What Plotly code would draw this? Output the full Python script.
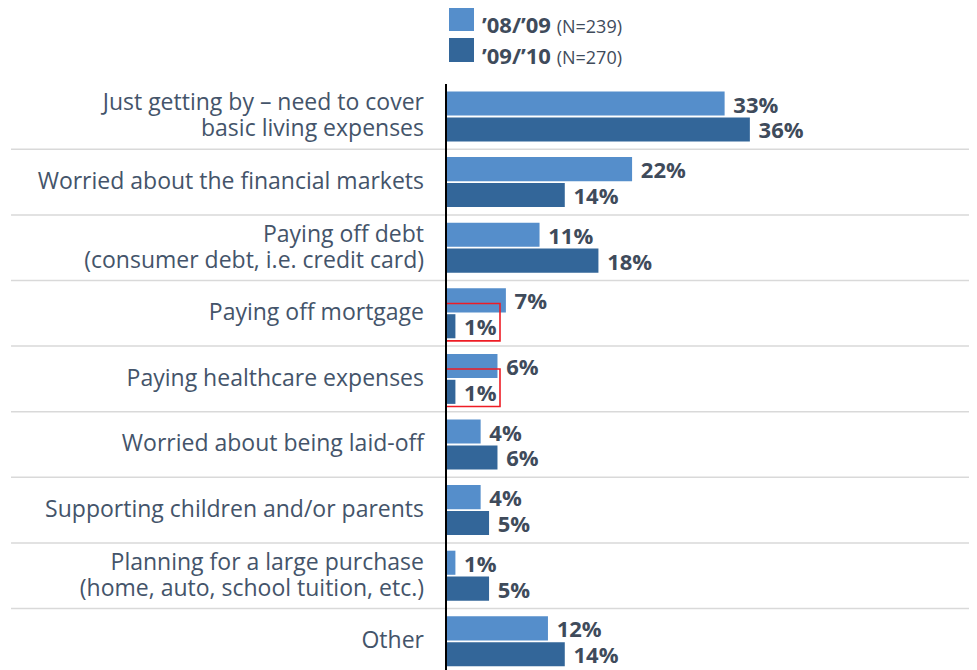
import plotly.graph_objects as go

categories = [
    "Just getting by – need to cover<br>basic living expenses",
    "Worried about the financial markets",
    "Paying off debt<br>(consumer debt, i.e. credit card)",
    "Paying off mortgage",
    "Paying healthcare expenses",
    "Worried about being laid-off",
    "Supporting children and/or parents",
    "Planning for a large purchase<br>(home, auto, school tuition, etc.)",
    "Other",
]
series_0809 = [33, 22, 11, 7, 6, 4, 4, 1, 12]
series_0910 = [36, 14, 18, 1, 1, 6, 5, 5, 14]
series_names = ["’08/’09", "’09/’10"]
series_n = ["(N=239)", "(N=270)"]
highlight_idx = [3, 4]

C_LIGHT = "#558ECB"
C_DARK = "#336699"
TXT = "#44546A"
VAL = "#3F4B5B"
FONT = "Open Sans"

# page has an 8px body margin; figure is sized so the plot lands at the reference position
OFF = 8
L, T, PW, PH = 447 - OFF, 84 - OFF, 530, 586

fig = go.Figure()
for vals, col in [(series_0809, C_LIGHT), (series_0910, C_DARK)]:
    fig.add_trace(go.Bar(
        y=categories, x=vals, orientation="h",
        marker=dict(color=col, line=dict(width=0)),
        texttemplate="\u00a0%{x}%", textposition="outside",
        textfont=dict(family=FONT, size=22, color=VAL, weight="bold"),
        constraintext="none", cliponaxis=False, showlegend=False,
    ))

shapes = []
for k in range(len(categories) - 1):
    shapes.append(dict(type="line", xref="paper", yref="y", x0=-0.8226, x1=1,
                       y0=k + 0.5, y1=k + 0.5, line=dict(color="#D9D9D9", width=1.5), layer="below"))
for i in highlight_idx:
    shapes.append(dict(type="rect", xref="x", yref="y", x0=-0.65, x1=6.3,
                       y0=i - 0.15, y1=i + 0.42, line=dict(color="#EE1C25", width=1.6)))

annotations = []
for j, (nm, nn, col) in enumerate(zip(series_names, series_n, [C_LIGHT, C_DARK])):
    y0 = 7 + j * 31
    shapes.append(dict(type="rect", xref="paper", yref="paper",
                       x0=(449 - 447) / PW, x1=(474 - 447) / PW,
                       y0=1 + (84 - y0) / PH, y1=1 + (84 - y0 - 24) / PH,
                       fillcolor=col, line=dict(width=0)))
    annotations.append(dict(xref="paper", yref="paper", x=(480 - 447) / PW,
                            y=1 + (84 - y0 - 17) / PH, xanchor="left", yanchor="middle",
                            text=f"<b>{nm}</b> <span style='font-size:18px'>{nn}</span>",
                            showarrow=False, font=dict(family=FONT, size=22, color=VAL)))

ticktext = [f"<span style='font-size:23px'>{c}</span>" for c in categories]

fig.update_layout(
    width=L + PW, height=T + PH,
    margin=dict(l=L, r=0, t=T, b=0, pad=0),
    barmode="group", bargap=0.21, bargroupgap=0.07,
    plot_bgcolor="white", paper_bgcolor="white",
    shapes=shapes, annotations=annotations,
    font=dict(family=FONT, color=TXT),
)
fig.update_xaxes(range=[0, 63.0], visible=False, fixedrange=True)
fig.update_yaxes(type="category", range=[8.4375, -0.495], showgrid=False,
                 tickmode="array", tickvals=categories, ticktext=ticktext,
                 showline=True, linecolor="black", linewidth=2, ticks="",
                 ticklabelstandoff=17, tickfont=dict(family=FONT, size=20, color=TXT),
                 zeroline=False)

fig.write_html("out.html")
